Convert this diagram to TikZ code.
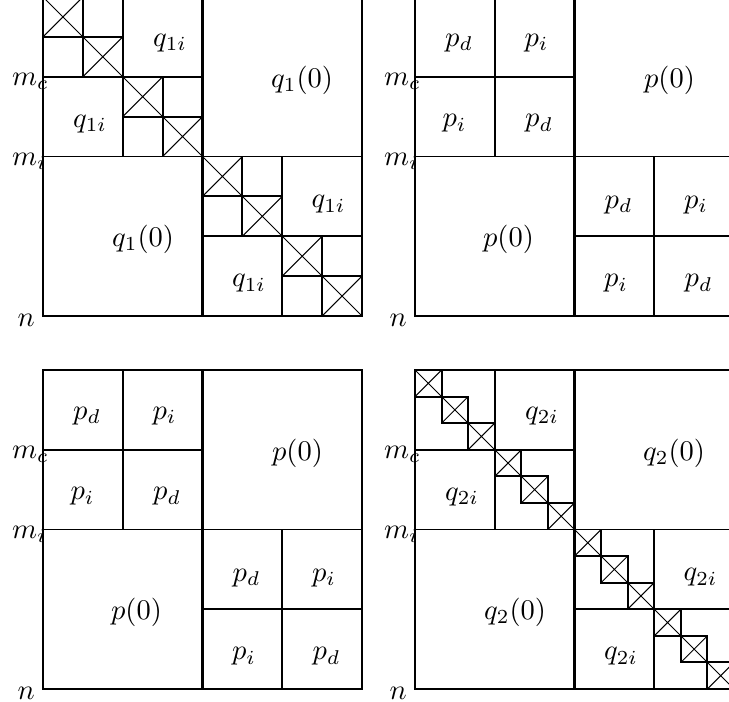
\documentclass[tikz,border=0pt]{standalone}
\tikzset{
  frame/.style={draw=black, line width=0.8pt},
  split/.style={draw=black, line width=1.05pt},
  rule/.style={draw=black, line width=0.6pt},
  xbox/.style={draw=black, line width=0.65pt},
  xline/.style={draw=black, line width=0.35pt},
  idx/.style={inner sep=0pt, anchor=base west},
  cell/.style={inner sep=0pt},
}

\begin{document}
\begin{tikzpicture}[x=0.3509pt, y=-0.3509pt]
\clip (0,0) rectangle (729,702);
% axis marks + block grid of every panel
\foreach \ox/\oy/\p in {43/-3/1, 415/-3/2, 43/370/3, 415/370/4} {
  \begin{scope}[shift={(\ox,\oy)}]
  \node[idx] (mc\p) at (-31.5,88.25) {$m_c$};
  \node[idx] (mi\p) at (-31.5,168) {$m_i$};
  \node[idx] (n\p) at (-26,329) {$n$};
  \draw[rule] (79.75,0) -- (79.75,159.5) (0,79.75) -- (159.5,79.75);
  \draw[rule] (239.25,159.5) -- (239.25,319) (159.5,239.25) -- (319,239.25);
  \draw[rule] (0,159.5) -- (319,159.5);
  \draw[split] (159.5,0) -- (159.5,319);
  \draw[frame] (0,0) rectangle (319,319);
  \end{scope}
}

% crossed boxes on the diagonal (8 in q1, 12 in q2)
\foreach \ox/\oy/\s/\m in {43/-3/39.875/7, 415/370/26.5833/11} {
  \foreach \k in {0,...,\m} {
    \draw[xbox] ({\ox+\k*\s},{\oy+\k*\s}) rectangle ++(\s,\s);
    \draw[xline] ({\ox+\k*\s},{\oy+\k*\s}) -- ++(\s,\s) ++(0,-\s) -- ++(-\s,\s);
  }
}

% q panels
\foreach \ox/\oy/\j in {43/-3/1, 415/370/2} {
  \begin{scope}[shift={(\ox,\oy)}]
  \node[cell] (q\j-a) at (127,46) {$q_{\j i}$};
  \node[cell] (q\j-b) at (259,83) {$q_{\j}(0)$};
  \node[cell] (q\j-c) at (47,127) {$q_{\j i}$};
  \node[cell] (q\j-d) at (100,242.5) {$q_{\j}(0)$};
  \node[cell] (q\j-e) at (285.5,207.5) {$q_{\j i}$};
  \node[cell] (q\j-f) at (206,286.5) {$q_{\j i}$};
  \end{scope}
}

% p panels
\foreach \ox/\oy/\j in {415/-3/1, 43/370/2} {
  \begin{scope}[shift={(\ox,\oy)}]
  \node[cell] (p\j-a) at (44,46) {$p_d$};
  \node[cell] (p\j-b) at (121.5,46) {$p_i$};
  \node[cell] (p\j-c) at (39.5,126.5) {$p_i$};
  \node[cell] (p\j-d) at (124,126.5) {$p_d$};
  \node[cell] (p\j-e) at (254.5,83) {$p(0)$};
  \node[cell] (p\j-f) at (93.5,242) {$p(0)$};
  \node[cell] (p\j-g) at (203.5,208) {$p_d$};
  \node[cell] (p\j-h) at (281,208) {$p_i$};
  \node[cell] (p\j-i) at (201,286.5) {$p_i$};
  \node[cell] (p\j-j) at (283.5,286.5) {$p_d$};
  \end{scope}
}
\end{tikzpicture}
\end{document}
